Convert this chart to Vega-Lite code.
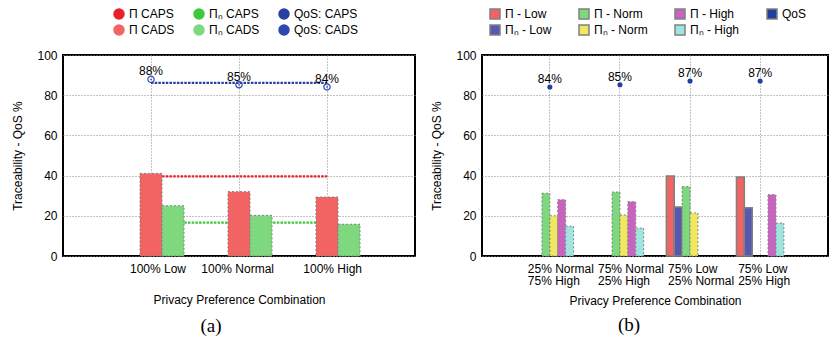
{
  "$schema": "https://vega.github.io/schema/vega-lite/v6.json",
  "padding": {"left": 10, "top": 7, "right": 0, "bottom": 0},
  "config": {
    "font": "Liberation Sans",
    "view": {"stroke": "#000", "strokeWidth": 2},
    "axis": {"labelColor": "#000", "titleColor": "#000", "labelFontSize": 12, "titleFontSize": 12, "titleFontWeight": "normal"},
    "legend": {"labelColor": "#000", "labelFontSize": 12}
  },
  "datasets": {
    "a_caps": [
      {"cat": "100% Low", "series": "Π CAPS", "value": 39.6},
      {"cat": "100% Normal", "series": "Π CAPS", "value": 39.6},
      {"cat": "100% High", "series": "Π CAPS", "value": 39.6},
      {"cat": "100% Low", "series": "Πₙ CAPS", "value": 16.6},
      {"cat": "100% Normal", "series": "Πₙ CAPS", "value": 16.6},
      {"cat": "100% High", "series": "Πₙ CAPS", "value": 16.6},
      {"cat": "100% Low", "series": "QoS: CAPS", "value": 86.1},
      {"cat": "100% Normal", "series": "QoS: CAPS", "value": 86.1},
      {"cat": "100% High", "series": "QoS: CAPS", "value": 86.1}
    ],
    "a_cads": [
      {"cat": "100% Low", "series": "Π CADS", "value": 41.1},
      {"cat": "100% Normal", "series": "Π CADS", "value": 32.0},
      {"cat": "100% High", "series": "Π CADS", "value": 29.3},
      {"cat": "100% Low", "series": "Πₙ CADS", "value": 25.0},
      {"cat": "100% Normal", "series": "Πₙ CADS", "value": 20.2},
      {"cat": "100% High", "series": "Πₙ CADS", "value": 15.8}
    ],
    "a_qos": [
      {"cat": "100% Low", "series": "QoS: CADS", "value": 87.9, "label": "88%"},
      {"cat": "100% Normal", "series": "QoS: CADS", "value": 85.2, "label": "85%"},
      {"cat": "100% High", "series": "QoS: CADS", "value": 84.1, "label": "84%"}
    ],
    "b_bars": [
      {"cat": "25% Normal\n75% High", "series": "Π - Norm", "value": 31.2},
      {"cat": "25% Normal\n75% High", "series": "Πₙ - Norm", "value": 20.0},
      {"cat": "25% Normal\n75% High", "series": "Π - High", "value": 28.0},
      {"cat": "25% Normal\n75% High", "series": "Πₙ - High", "value": 14.8},
      {"cat": "75% Normal\n25% High", "series": "Π - Norm", "value": 31.8},
      {"cat": "75% Normal\n25% High", "series": "Πₙ - Norm", "value": 20.4},
      {"cat": "75% Normal\n25% High", "series": "Π - High", "value": 27.0},
      {"cat": "75% Normal\n25% High", "series": "Πₙ - High", "value": 13.9},
      {"cat": "75% Low\n25% Normal", "series": "Π - Low", "value": 39.8},
      {"cat": "75% Low\n25% Normal", "series": "Πₙ - Low", "value": 24.4},
      {"cat": "75% Low\n25% Normal", "series": "Π - Norm", "value": 34.5},
      {"cat": "75% Low\n25% Normal", "series": "Πₙ - Norm", "value": 21.4},
      {"cat": "75% Low\n25% High", "series": "Π - Low", "value": 39.3},
      {"cat": "75% Low\n25% High", "series": "Πₙ - Low", "value": 24.0},
      {"cat": "75% Low\n25% High", "series": "Π - High", "value": 30.5},
      {"cat": "75% Low\n25% High", "series": "Πₙ - High", "value": 16.4}
    ],
    "b_qos": [
      {"cat": "25% Normal\n75% High", "series": "QoS", "value": 84.1, "label": "84%"},
      {"cat": "75% Normal\n25% High", "series": "QoS", "value": 85.2, "label": "85%"},
      {"cat": "75% Low\n25% Normal", "series": "QoS", "value": 87.1, "label": "87%"},
      {"cat": "75% Low\n25% High", "series": "QoS", "value": 87.1, "label": "87%"}
    ]
  },
  "hconcat": [
    {
      "width": 352,
      "height": 201,
      "title": {"text": "(a)", "orient": "bottom", "font": "Liberation Serif", "fontSize": 19, "fontWeight": "normal", "offset": 12, "dx": -28, "color": "#000"},
      "layer": [
        {
          "data": {"name": "a_caps"},
          "mark": {"type": "line", "strokeDash": [2.5, 1.2], "strokeWidth": 2.2},
          "encoding": {
            "x": {"field": "cat", "type": "nominal",
              "scale": {"type": "band", "domain": ["100% Low", "100% Normal", "100% High"], "paddingInner": 0, "paddingOuter": 0.5},
              "axis": {"title": "Privacy Preference Combination", "bandPosition": 0.5, "grid": true, "gridDash": [1, 2], "gridColor": "#888", "ticks": false, "domain": false, "labelAngle": 0, "labelAlign": "right", "labelOffset": 35, "labelPadding": 7, "labelOverlap": false, "titlePadding": 20}},
            "y": {"field": "value", "type": "quantitative",
              "scale": {"domain": [0, 100], "nice": false},
              "axis": {"title": "Traceability - QoS %", "values": [0, 20, 40, 60, 80, 100], "grid": true, "gridDash": [1, 2], "gridColor": "#888", "ticks": false, "domain": false, "labelPadding": 6, "titlePadding": 12}},
            "color": {"field": "series", "type": "nominal",
              "scale": {"domain": ["Π CAPS", "Π CADS", "Πₙ CAPS", "Πₙ CADS", "QoS: CAPS", "QoS: CADS"], "range": ["#e8202a", "#f26464", "#3cc83c", "#7ed87e", "#2840a0", "#2c48b0"]},
              "legend": {"orient": "none", "legendX": 50, "legendY": -47, "columns": 3, "title": null, "columnPadding": 16, "rowPadding": 0}}
          }
        },
        {
          "data": {"name": "a_cads"},
          "transform": [{"filter": "datum.series == 'Π CADS'"}],
          "mark": {"type": "bar", "width": {"band": 0.25}, "stroke": "#808080", "strokeWidth": 1, "strokeDash": [2, 2]},
          "encoding": {
            "x": {"field": "cat", "type": "nominal"},
            "y": {"field": "value", "type": "quantitative"},
            "color": {"field": "series", "type": "nominal"}
          }
        },
        {
          "data": {"name": "a_cads"},
          "transform": [{"filter": "datum.series == 'Πₙ CADS'"}],
          "mark": {"type": "bar", "width": {"band": 0.25}, "xOffset": 22, "stroke": "#808080", "strokeWidth": 1, "strokeDash": [2, 2]},
          "encoding": {
            "x": {"field": "cat", "type": "nominal"},
            "y": {"field": "value", "type": "quantitative"},
            "color": {"field": "series", "type": "nominal"}
          }
        },
        {
          "data": {"name": "a_qos"},
          "mark": {"type": "point", "shape": "circle", "filled": false, "size": 40, "strokeWidth": 1.2, "opacity": 1},
          "encoding": {
            "x": {"field": "cat", "type": "nominal"},
            "y": {"field": "value", "type": "quantitative"},
            "color": {"field": "series", "type": "nominal"}
          }
        },
        {
          "data": {"name": "a_qos"},
          "mark": {"type": "point", "shape": "circle", "filled": true, "size": 3, "color": "#2c48b0", "opacity": 1},
          "encoding": {
            "x": {"field": "cat", "type": "nominal"},
            "y": {"field": "value", "type": "quantitative"}
          }
        },
        {
          "data": {"name": "a_qos"},
          "mark": {"type": "text", "dy": -4, "baseline": "alphabetic", "fontSize": 12, "color": "#000"},
          "encoding": {
            "x": {"field": "cat", "type": "nominal"},
            "y": {"field": "value", "type": "quantitative"},
            "text": {"field": "label"}
          }
        }
      ]
    },
    {
      "width": 346,
      "height": 201,
      "title": {"text": "(b)", "orient": "bottom", "font": "Liberation Serif", "fontSize": 19, "fontWeight": "normal", "offset": 10, "dx": -26, "color": "#000"},
      "layer": [
        {
          "data": {"name": "b_bars"},
          "transform": [{"filter": "datum.series == 'Π - Low'"}],
          "mark": {"type": "bar", "width": {"band": 0.1127}, "xOffset": -19.75, "stroke": "#808080", "strokeWidth": 1.5},
          "encoding": {
            "x": {"field": "cat", "type": "nominal",
              "scale": {"type": "band", "domain": ["25% Normal\n75% High", "75% Normal\n25% High", "75% Low\n25% Normal", "75% Low\n25% High"], "paddingInner": 0, "paddingOuter": 0.468},
              "axis": {"title": "Privacy Preference Combination", "bandPosition": 0.5, "grid": true, "gridDash": [1, 2], "gridColor": "#888", "ticks": false, "domain": false, "labelAngle": 0, "labelAlign": "left", "labelOffset": -22, "labelPadding": 7, "labelLineHeight": 12, "labelOverlap": false, "labelExpr": "split(datum.label, '\\n')", "titlePadding": 9}},
            "y": {"field": "value", "type": "quantitative",
              "scale": {"domain": [0, 100], "nice": false},
              "axis": {"title": "Traceability - QoS %", "values": [0, 20, 40, 60, 80, 100], "grid": true, "gridDash": [1, 2], "gridColor": "#888", "ticks": false, "domain": false, "labelPadding": 6, "titlePadding": 12}},
            "color": {"field": "series", "type": "nominal",
              "scale": {"domain": ["Π - Low", "Πₙ - Low", "Π - Norm", "Πₙ - Norm", "Π - High", "Πₙ - High", "QoS"], "range": ["#f26464", "#5858b0", "#7ed87e", "#f0e860", "#c864c0", "#a0e4e0", "#2040a0"]},
              "legend": {"orient": "none", "legendX": 7, "legendY": -47, "columns": 4, "title": null, "columnPadding": 24, "rowPadding": 0, "symbolType": "square"}}
          }
        },
        {
          "data": {"name": "b_bars"},
          "transform": [{"filter": "datum.series == 'Πₙ - Low'"}],
          "mark": {"type": "bar", "width": {"band": 0.1127}, "xOffset": -11.85, "stroke": "#808080", "strokeWidth": 1.5},
          "encoding": {"x": {"field": "cat", "type": "nominal"}, "y": {"field": "value", "type": "quantitative"}, "color": {"field": "series", "type": "nominal"}}
        },
        {
          "data": {"name": "b_bars"},
          "transform": [{"filter": "datum.series == 'Π - Norm'"}],
          "mark": {"type": "bar", "width": {"band": 0.1127}, "xOffset": -3.95, "stroke": "#808080", "strokeWidth": 1, "strokeDash": [2, 2]},
          "encoding": {"x": {"field": "cat", "type": "nominal"}, "y": {"field": "value", "type": "quantitative"}, "color": {"field": "series", "type": "nominal"}}
        },
        {
          "data": {"name": "b_bars"},
          "transform": [{"filter": "datum.series == 'Πₙ - Norm'"}],
          "mark": {"type": "bar", "width": {"band": 0.1127}, "xOffset": 3.95, "stroke": "#808080", "strokeWidth": 1, "strokeDash": [2, 2]},
          "encoding": {"x": {"field": "cat", "type": "nominal"}, "y": {"field": "value", "type": "quantitative"}, "color": {"field": "series", "type": "nominal"}}
        },
        {
          "data": {"name": "b_bars"},
          "transform": [{"filter": "datum.series == 'Π - High'"}],
          "mark": {"type": "bar", "width": {"band": 0.1127}, "xOffset": 11.85, "stroke": "#808080", "strokeWidth": 1, "strokeDash": [2, 2]},
          "encoding": {"x": {"field": "cat", "type": "nominal"}, "y": {"field": "value", "type": "quantitative"}, "color": {"field": "series", "type": "nominal"}}
        },
        {
          "data": {"name": "b_bars"},
          "transform": [{"filter": "datum.series == 'Πₙ - High'"}],
          "mark": {"type": "bar", "width": {"band": 0.1127}, "xOffset": 19.75, "stroke": "#808080", "strokeWidth": 1, "strokeDash": [2, 2]},
          "encoding": {"x": {"field": "cat", "type": "nominal"}, "y": {"field": "value", "type": "quantitative"}, "color": {"field": "series", "type": "nominal"}}
        },
        {
          "data": {"name": "b_qos"},
          "mark": {"type": "point", "shape": "circle", "filled": true, "size": 26, "opacity": 1},
          "encoding": {
            "x": {"field": "cat", "type": "nominal"},
            "y": {"field": "value", "type": "quantitative"},
            "color": {"field": "series", "type": "nominal"}
          }
        },
        {
          "data": {"name": "b_qos"},
          "mark": {"type": "text", "dy": -4, "baseline": "alphabetic", "fontSize": 12, "color": "#000"},
          "encoding": {
            "x": {"field": "cat", "type": "nominal"},
            "y": {"field": "value", "type": "quantitative"},
            "text": {"field": "label"}
          }
        }
      ]
    }
  ],
  "spacing": 13,
  "resolve": {"scale": {"color": "independent"}}
}
